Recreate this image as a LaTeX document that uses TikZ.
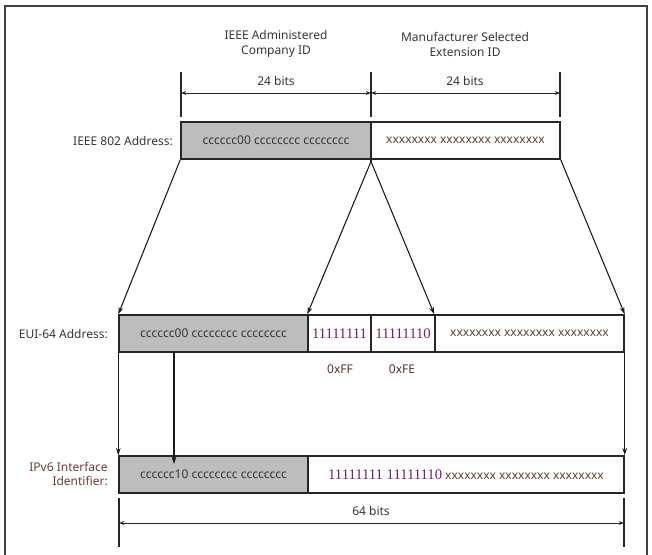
\documentclass[tikz,border=0pt]{standalone}
\usepackage{fontspec}
\setmainfont{Noto Sans}
\newfontfamily\digitfont{Liberation Serif}
\usetikzlibrary{arrows.meta}
\definecolor{cellgray}{RGB}{189,189,189}
\definecolor{inktext}{RGB}{58,52,52}
\definecolor{bitpurple}{RGB}{112,38,96}
\definecolor{xbrown}{RGB}{96,66,42}
\definecolor{rowlabel}{RGB}{110,60,50}

% name, x1, x2, y1, y2, extra style, text
\newcommand\bitcell[7]{%
  \node[cellbox,#6,minimum width={(#3-#2)*0.75pt},minimum height={(#5-#4)*0.75pt}]
    (#1) at ({(#2+#3)/2},{(#4+#5)/2}) {#7};}
\newcommand\ones[1]{{\digitfont\fontsize{11}{12}\selectfont\color{bitpurple}#1}}

\begin{document}
\begin{tikzpicture}[x=0.75pt,y=-0.75pt,
  cellbox/.style={draw=black!85,line width=1.1pt,inner sep=0pt,
    font=\fontsize{9}{11}\selectfont,text=inktext},
  shaded/.style={fill=cellgray},
  plain/.style={fill=white},
  xs/.style={text=xbrown},
  caption/.style={font=\fontsize{9}{11.3}\selectfont,text=inktext,align=center,inner sep=0pt},
  rowname/.style={font=\fontsize{9}{10.8}\selectfont,text=inktext,anchor=east,align=right,inner sep=0pt},
  tick/.style={line width=0.8pt,black!85},
  span/.style={line width=0.7pt,black!85,
    {Stealth[length=4pt,width=3pt]}-{Stealth[length=4pt,width=3pt]}},
  link/.style={line width=0.8pt,black!90,-{Stealth[length=5.5pt,width=3.5pt]}}
]
\useasboundingbox (0,0) rectangle (652,554);

% outer frame
\draw[line width=0.8pt,black!75] (5,570) -- (5,6) -- (647,6) -- (647,570);

% headings
\node[caption] (hcomp) at (276,44) {IEEE Administered\\Company ID};
\node[caption] (hext) at (465,44) {Manufacturer Selected\\Extension ID};

% 24-bit dimension marks
\coordinate (t1a) at (181,72);  \coordinate (t1b) at (181,117);
\coordinate (t2a) at (371,72);  \coordinate (t2b) at (371,117);
\coordinate (t3a) at (560,72);  \coordinate (t3b) at (560,117);
\draw[tick] (t1a) -- (t1b);
\draw[tick] (t2a) -- (t2b);
\draw[tick] (t3a) -- (t3b);
\coordinate (d1) at (181,93); \coordinate (d2) at (371,93); \coordinate (d3) at (560,93);
\draw[span] (d1) -- (d2);
\draw[span] (d2) -- (d3);
\node[caption] (w1) at (276,81) {24 bits};
\node[caption] (w2) at (465,81) {24 bits};

% IEEE 802 address
\node[rowname] (l802) at (173,141) {IEEE 802 Address:};
\bitcell{a1}{181}{371}{122}{159}{shaded}{cccccc00 cccccccc cccccccc}
\bitcell{a2}{371}{560}{122}{159}{plain,xs}{xxxxxxxx xxxxxxxx xxxxxxxx}

% EUI-64 address
\node[rowname] (leui) at (108,334) {EUI-64 Address:};
\bitcell{b1}{119}{308}{315}{352}{shaded}{cccccc00 cccccccc cccccccc}
\bitcell{b2}{308}{371}{315}{352}{plain}{\ones{11111111}}
\bitcell{b3}{371}{435}{315}{352}{plain}{\ones{11111110}}
\bitcell{b4}{435}{624}{315}{352}{plain,xs}{xxxxxxxx xxxxxxxx xxxxxxxx}
\node[caption,text=rowlabel!80!black] (ff) at (340,369) {0xFF};
\node[caption,text=rowlabel!80!black] (fe) at (402,369) {0xFE};

% mapping 802 -> EUI-64
\draw[link] (a1.south west) -- (b1.north west);
\draw[link] (a1.south east) -- (b2.north west);
\draw[link] (a2.south west) -- (b4.north west);
\draw[link] (a2.south east) -- (b4.north east);

% IPv6 interface identifier
\node[rowname,text=rowlabel] (lipv6) at (108,474) {IPv6 Interface\\Identifier:};
\bitcell{c1}{119}{308}{456}{493}{shaded}{cccccc10 cccccccc cccccccc}
\bitcell{c2}{308}{624}{456}{493}{plain,xs}{\ones{11111111 11111110} xxxxxxxx xxxxxxxx xxxxxxxx}

% mapping EUI-64 -> IPv6
\draw[link] (b1.south west) -- (c1.north west);
\draw[link] (b4.south east) -- (c2.north east);
\coordinate (ubit) at (174,352);
\coordinate (ubitend) at (174,464);
\draw[link] (ubit) -- (ubitend);

% 64-bit dimension mark
\coordinate (t4a) at (119,498); \coordinate (t4b) at (119,547);
\coordinate (t5a) at (624,498); \coordinate (t5b) at (624,547);
\draw[tick] (t4a) -- (t4b);
\draw[tick] (t5a) -- (t5b);
\coordinate (d4) at (119,523); \coordinate (d5) at (624,523);
\draw[span] (d4) -- (d5);
\node[caption] (w3) at (371,511) {64 bits};
\end{tikzpicture}
\end{document}
